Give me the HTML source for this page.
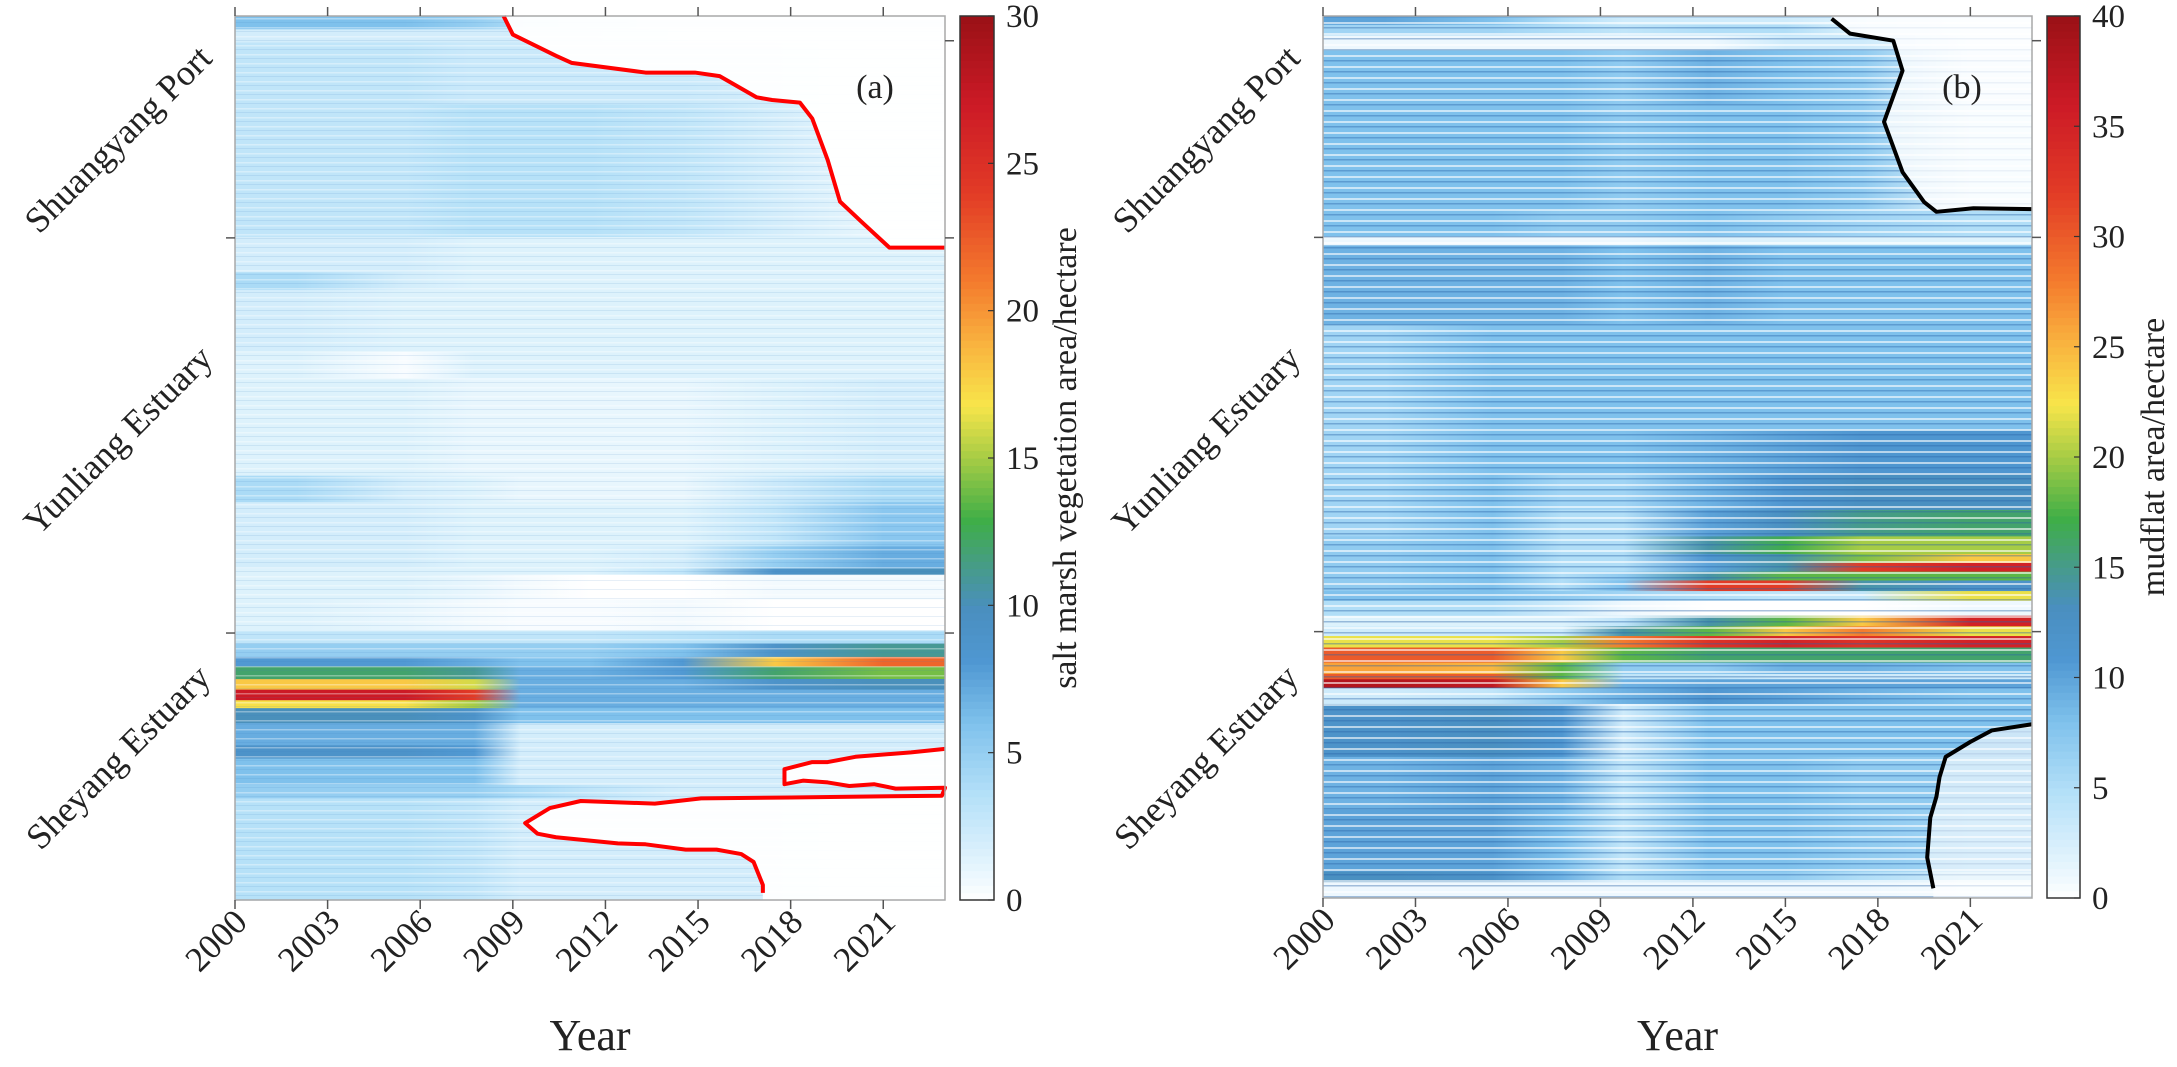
<!DOCTYPE html>
<html><head><meta charset="utf-8"><style>
html,body{margin:0;padding:0;background:#fff;}
svg text{font-family:"Liberation Serif",serif;fill:#222;}
</style></head><body>
<svg id="chart" width="2177" height="1062" viewBox="0 0 2177 1062" xmlns="http://www.w3.org/2000/svg">
<defs>
<pattern id="stripeB" patternUnits="userSpaceOnUse" width="20" height="11"><rect x="0" y="0" width="20" height="2" fill="#fff" opacity="0.6"/><rect x="0" y="5" width="20" height="1.5" fill="#2a65a8" opacity="0.4"/></pattern>
<pattern id="stripeA" patternUnits="userSpaceOnUse" width="20" height="9"><rect x="0" y="0" width="20" height="1.5" fill="#fff" opacity="0.35"/><rect x="0" y="4" width="20" height="1" fill="#3a80c0" opacity="0.12"/></pattern>
</defs>
<g id="gA"></g>
<g id="gB"></g>
</svg>
<script>
// ---------- data ----------
const YEAR_TICKS = [2000,2003,2006,2009,2012,2015,2018,2021];
const REGION_LABELS = ["Shuangyang Port","Yunliang Estuary","Sheyang Estuary"];
const REGION_TICKS_KM = [2.8,25.1,69.8];
const CB_TICKS_A = [0,5,10,15,20,25,30];
const CB_TICKS_B = [0,5,10,15,20,25,30,35,40];

const COLS_A = [2000,2004,2007,2008.5,2010,2013,2016,2019,2023];
const KM_A = [0,1.5,3,10,25,29,31,38,41,52,55,60,62.5,63.2,66,69.5,71,72.5,73.6,75,76.2,77.4,78.3,80,82.5,84,87,88.5,100];
const VALS_A = [
[6,6,5,4,3,2,2,2],
[2,2,2,2,2,1.5,1,1],
[3,3,2.5,2.5,2.5,2.5,2,1],
[3,3,3.5,3.5,3.5,3,2,1],
[2,2,1.5,1.5,1.5,1.5,1.5,1.5],
[4,2,1.5,1.5,1.5,1.5,1.5,1.5],
[2,1.5,1.5,1.5,1.5,1.5,1.5,1.5],
[1.5,0.3,1.5,1.5,1.5,1.5,1.5,1.5],
[1.5,1.5,1,1,1,1,1.5,2],
[4,2,1.5,1,1,1,2.5,4],
[2,2,1.5,1.5,1.5,1.5,3,5.5],
[2,2,1.5,1.5,1.5,2,5,7],
[1.5,1.5,1.5,1.5,1.5,3,9,10],
[1.5,1.5,1,0.5,0,0,0.5,0.5],
[1.5,1,0.5,0.3,0.3,0.5,0,0],
[3,3,3,3,3,3.5,4,4],
[5,5,5,5,5,6,9,11],
[8,8,7,6,6,8,18,22],
[12,12,11,7,7,8,12,14],
[18,18,16,7,7,7,9,10],
[27,27,24,7,7,7,7,7],
[17,17,15,7,7,7,7,7],
[10,10,9,6,6,6,6,6],
[7,7,7,2,2,2,2,2],
[9,9,8,2,2,2,2,2],
[6,6,6,2,2,2,2,2],
[5,5,5,4,3,2,2,2],
[3.5,3.5,3,2,2,2,2,1]
];
const COLS_B = [2000,2004,2007,2008.5,2011,2014,2016,2019,2023];
const KM_B = [0,1,2.2,3.9,10,22,25,26,35,47,52,56,59,61,62,63,64,65.2,66.3,68,69.2,70.3,71.6,73.3,74.6,75.2,76.2,78,84,90,97,98.2,100];
const VALS_B = [
[10,8,5,3,3,3,2,1],
[6,6,5,4,5,5,2,1],
[1,1,1,1,1,3,3,1],
[8,8,8,7,9,8,7,1.5],
[8,8,8,7,8,8,7,2],
[8,8,7,7,8,7,6,5],
[1,1,1,1,2,2,2,2],
[9,9,9,8,9,8,8,8],
[6,8,8,8,8,8,8,8],
[6,8,8,8,9,10,11,11],
[6,8,6,6,9,11,13,13],
[6,8,5,5,10,13,15,16],
[7,8,5,5,14,17,20,20],
[7,8,5,5,11,14,19,24],
[7,8,5,5,10,14,32,35],
[7,8,5,7,14,18,18,18],
[7,8,5,8,32,32,14,12],
[8,8,7,6,5,4,4,22],
[5,5,3,1,0,0,0,1],
[2,2,2,4,14,18,24,35],
[3,3,3,14,18,24,28,22],
[22,22,20,28,33,35,33,35],
[30,30,24,18,16,16,16,16],
[26,25,18,7,7,9,9,8],
[30,30,18,4,4,3,3,3],
[38,37,24,9,10,10,10,10],
[3,4,7,9,11,10,9,8],
[12,13,11,3,8,8,8,8],
[9,10,9,4,8,8,7,7],
[10,10,8,4,8,8,7,6],
[13,12,9,5,7,7,5,3],
[1,1,1,1,1,1,1,0.5]
];
// boundary lines: [year, km]
const RED_TOP_YEARS = [2008.7,2009.0,2010.4,2010.9,2013.3,2014.9,2015.7,2016.9,2017.4,2018.3,2018.7,2019.2,2019.6,2020.3,2021.2,2023];
const RED_TOP_KM    = [0,2.1,4.5,5.3,6.4,6.4,6.8,9.2,9.5,9.8,11.6,16.3,21.0,23.3,26.2,26.2];
const RED_BOT_YEARS = [2023,2021.9,2020.1,2019.2,2018.7,2017.8,2017.8,2018.4,2019.2,2019.9,2020.7,2021.4,2023,2022.9,2018.0,2015.1,2013.6,2011.2,2010.2,2009.4,2009.8,2010.4,2012.4,2013.3,2014.6,2015.6,2016.4,2016.8,2017.1,2017.1];
const RED_BOT_KM    = [82.9,83.3,83.8,84.4,84.4,85.2,86.9,86.5,86.7,87.1,86.9,87.4,87.3,88.2,88.4,88.5,89.1,88.8,89.6,91.3,92.5,92.9,93.6,93.7,94.3,94.3,94.8,95.7,98.3,99.2];
const BLK_TOP_YEARS = [2016.5,2017.1,2018.5,2018.8,2018.2,2018.8,2019.5,2019.9,2021.1,2023];
const BLK_TOP_KM    = [0.3,2.0,2.8,6.2,12.0,17.7,21.1,22.2,21.8,21.9];
const BLK_BOT_YEARS = [2023,2021.7,2021.0,2020.2,2020.0,2019.9,2019.7,2019.6,2019.8];
const BLK_BOT_KM    = [80.3,81.0,82.3,84.0,86.3,88.5,90.9,95.4,98.9];

// ---------- colormap ----------
const CMAP = [[0,'#ffffff'],[0.04,'#e3f4fd'],[0.12,'#b4e0f8'],[0.2,'#7fc1ec'],[0.27,'#4f97d2'],[0.33,'#4a8fbf'],[0.38,'#469c85'],[0.43,'#3fae47'],[0.5,'#a6cc45'],[0.56,'#f8e54a'],[0.63,'#f9b23f'],[0.7,'#f47b2d'],[0.8,'#e23b26'],[0.9,'#cc1a26'],[1,'#9a1116']];
function hex(c){return [parseInt(c.slice(1,3),16),parseInt(c.slice(3,5),16),parseInt(c.slice(5,7),16)];}
function cmap(t){t=Math.max(0,Math.min(1,t));for(let i=1;i<CMAP.length;i++){if(t<=CMAP[i][0]){const a=CMAP[i-1],b=CMAP[i];const f=(t-a[0])/(b[0]-a[0]);const A=hex(a[1]),B=hex(b[1]);return 'rgb('+A.map((v,k)=>Math.round(v+(B[k]-v)*f)).join(',')+')';}}return CMAP[CMAP.length-1][1];}

const NS='http://www.w3.org/2000/svg';
function mk(tag,attrs,parent){const e=document.createElementNS(NS,tag);for(const k in attrs)e.setAttribute(k,attrs[k]);parent.appendChild(e);return e;}
const defs=document.querySelector('defs');

function panel(g,cfg){
  const {L,R,T,B,cols,km,vals,vmax,cbx,cbw,cbTicks,cbTitle,tag,lineColor,topY,topK,botY,botK,maskOpTop,maskOpBot,stripe,pid}=cfg;
  const X=y=>L+(y-2000)/23*(R-L);
  const Y=k=>T+k/100*(B-T);
  for(let r=0;r<vals.length;r++){
    const gid=pid+'g'+r;
    const lg=mk('linearGradient',{id:gid,x1:0,x2:1,y1:0,y2:0},defs);
    for(let c=0;c<vals[r].length;c++){
      const mid=((cols[c]+cols[c+1])/2-2000)/23;
      if(c===0) mk('stop',{offset:0,'stop-color':cmap(vals[r][c]/vmax)},lg);
      mk('stop',{offset:mid,'stop-color':cmap(vals[r][c]/vmax)},lg);
      if(c===vals[r].length-1) mk('stop',{offset:1,'stop-color':cmap(vals[r][c]/vmax)},lg);
    }
    const y0=Y(km[r]),y1=Y(km[r+1]);
    const rc=mk('rect',{x:L,y:y0,width:R-L,height:y1-y0+0.6,fill:'url(#'+gid+')'},g);
    
    
  }
  const st=mk('rect',{x:L,y:T,width:R-L,height:B-T,fill:'url(#'+stripe+')'},g);
  
  
  let p1=topY.map((y,i)=>X(y)+','+Y(topK[i]));p1.push(X(2023)+','+Y(0));p1.push(X(topY[0])+','+Y(0));
  const m1=mk('polygon',{points:p1.join(' '),fill:'#fff',opacity:maskOpTop},g);
  
  
  let p2=botY.map((y,i)=>X(y)+','+Y(botK[i]));p2.push(X(botY[botY.length-1])+','+Y(100));p2.push(X(2023)+','+Y(100));
  const m2=mk('polygon',{points:p2.join(' '),fill:'#fff',opacity:maskOpBot},g);
  
  
  const l1=mk('polyline',{points:topY.map((y,i)=>X(y)+','+Y(topK[i])).join(' '),fill:'none',stroke:lineColor,'stroke-width':4,'stroke-linejoin':'round'},g);
  
  
  const l2=mk('polyline',{points:botY.map((y,i)=>X(y)+','+Y(botK[i])).join(' '),fill:'none',stroke:lineColor,'stroke-width':4,'stroke-linejoin':'round'},g);
  
  
  const bx=mk('rect',{x:L,y:T,width:R-L,height:B-T,fill:'none',stroke:'#a8a8a8','stroke-width':1.5},g);
  
  
  YEAR_TICKS.forEach(yr=>{
    const x=X(yr);
    mk('line',{x1:x,x2:x,y1:B,y2:B+9,stroke:'#555','stroke-width':1.5},g);
    mk('line',{x1:x,x2:x,y1:T,y2:T-9,stroke:'#555','stroke-width':1.5},g);
    const t=mk('text',{x:x+14,y:B+24,'font-size':35,'text-anchor':'end',transform:'rotate(-45 '+(x+14)+' '+(B+24)+')'},g);
    t.textContent=yr;
    
    
  });
  const xt=mk('text',{x:(L+R)/2,y:1050,'font-size':44,'text-anchor':'middle'},g);
  xt.textContent='Year';
  
  
  REGION_TICKS_KM.forEach((k,i)=>{
    const y=Y(k);
    mk('line',{x1:R,x2:R+9,y1:y,y2:y,stroke:'#555','stroke-width':1.5},g);
    if(i>0) mk('line',{x1:L,x2:L-9,y1:y,y2:y,stroke:'#555','stroke-width':1.5},g);
  });
  const regionCenters=[139,440,757];
  REGION_LABELS.forEach((lab,i)=>{
    const cx=L-117, cy=regionCenters[i];
    const t=mk('text',{x:cx,y:cy+12,'font-size':36,'text-anchor':'middle',transform:'rotate(-45 '+cx+' '+cy+')'},g);
    t.textContent=lab;
    
    
  });
  const pt=mk('text',{x:R-70,y:98,'font-size':34,'text-anchor':'middle'},g);
  pt.textContent=tag;
  
  
  const N=120;
  for(let i=0;i<N;i++){
    const y0=B-(i+1)/N*(B-T);
    mk('rect',{x:cbx,y:y0,width:cbw,height:(B-T)/N+0.6,fill:cmap((i+0.5)/N)},g);
  }
  const cbf=mk('rect',{x:cbx,y:T,width:cbw,height:B-T,fill:'none',stroke:'#333','stroke-width':1.5},g);
  
  
  cbTicks.forEach(v=>{
    const y=B-v/vmax*(B-T);
    mk('line',{x1:cbx+cbw,x2:cbx+cbw-6,y1:y,y2:y,stroke:'#333','stroke-width':1.2},g);
    const t=mk('text',{x:cbx+cbw+12,y:y+11,'font-size':33},g);
    t.textContent=v;
    
    
  });
  const tx=cbx+cbw+(vmax>30?84:82), ty=(T+B)/2;
  const ct=mk('text',{x:tx,y:ty,'font-size':34,'text-anchor':'middle',transform:'rotate(-90 '+tx+' '+ty+')'},g);
  ct.textContent=cbTitle;
  
  
}

panel(document.getElementById('gA'),{pid:'a',L:235,R:945,T:16,B:900,cols:COLS_A,km:KM_A,vals:VALS_A,vmax:30,cbx:960,cbw:34,cbTicks:CB_TICKS_A,cbTitle:'salt marsh vegetation area/hectare',tag:'(a)',lineColor:'#ff0000',topY:RED_TOP_YEARS,topK:RED_TOP_KM,botY:RED_BOT_YEARS,botK:RED_BOT_KM,maskOpTop:0.95,maskOpBot:0.95,stripe:'stripeA'});
panel(document.getElementById('gB'),{pid:'b',L:1323,R:2032,T:16,B:898,cols:COLS_B,km:KM_B,vals:VALS_B,vmax:40,cbx:2047,cbw:33,cbTicks:CB_TICKS_B,cbTitle:'mudflat area/hectare',tag:'(b)',lineColor:'#000000',topY:BLK_TOP_YEARS,topK:BLK_TOP_KM,botY:BLK_BOT_YEARS,botK:BLK_BOT_KM,maskOpTop:0.8,maskOpBot:0.6,stripe:'stripeB'});
</script>
</body></html>
